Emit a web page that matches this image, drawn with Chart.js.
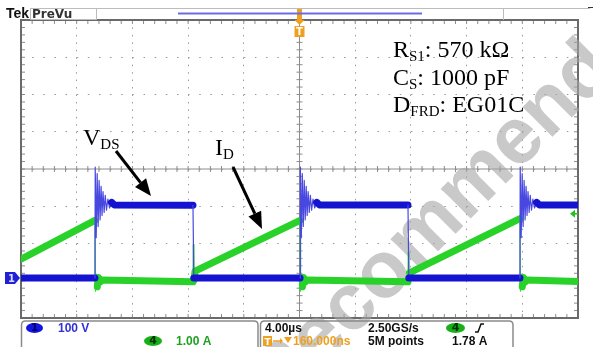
<!DOCTYPE html>
<html>
<head>
<meta charset="utf-8">
<script src="https://cdn.jsdelivr.net/npm/chart.js@4.4.0/dist/chart.umd.min.js"></script>
<style>
  html, body { margin: 0; padding: 0; background: #fff; }
  #wrap { width: 593px; height: 347px; }
</style>
</head>
<body>
<div id="wrap"><canvas id="scope" width="593" height="347"></canvas></div>
<script>
// screen: 10 div x 4.00 us, 8 div vertical
const timeSpanUs = 40;
const usPerDiv = 4;

// switching instants (us from left edge)
const turnOffUs = [5.31, 20.04, 35.83];
const turnOnUs = [12.35, 27.79];

// ch1 V_DS, 100 V/div
const vdsPlateauV = [195, 196, 196];
const ringDtUs = [0, 0.02, 0.09, 0.16, 0.23, 0.30, 0.37, 0.44, 0.51, 0.58, 0.66, 0.74, 0.83, 0.93, 1.05, 1.20, 1.40];
const ringV = [0, 298, 108, 280, 138, 262, 156, 246, 168, 232, 176, 222, 182, 212, 188, 203, 196];

// ch4 I_D, 1.00 A/div
const rampStartUs = [0, 12.5, 27.9];
const rampStartA = [0.56, 0.24, 0.19];
const rampEndA = [1.60, 1.60, 1.65];
const dropDtUs = [0.04, 0.10, 0.17, 0.25, 0.35, 0.50];
const dropA = [-0.30, 0.16, -0.18, 0.07, -0.06, 0.0];
const offFloorEndA = [-0.05, -0.05, -0.04];
const onSpikeA = [0.95, 0.75];
const trigLevelA = 1.78;

function buildVds() {
  const pts = [{ x: 0, y: 0 }];
  turnOffUs.forEach((tOff, i) => {
    ringDtUs.forEach((dt, k) => pts.push({ x: tOff + dt, y: ringV[k] }));
    const tOn = turnOnUs[i];
    if (tOn !== undefined) {
      pts.push({ x: tOn, y: vdsPlateauV[i] });
      pts.push({ x: tOn + 0.06, y: 0 });
    } else {
      pts.push({ x: timeSpanUs, y: vdsPlateauV[i] });
    }
  });
  return pts;
}

function buildId() {
  const pts = [];
  turnOffUs.forEach((tOff, i) => {
    pts.push({ x: rampStartUs[i], y: rampStartA[i] });
    pts.push({ x: tOff, y: rampEndA[i] });
    dropDtUs.forEach((dt, k) => pts.push({ x: tOff + dt, y: dropA[k] }));
    const tOn = turnOnUs[i];
    if (tOn !== undefined) {
      pts.push({ x: tOn, y: offFloorEndA[i] });
      pts.push({ x: tOn + 0.02, y: onSpikeA[i] });
      pts.push({ x: tOn + 0.07, y: 0 });
    } else {
      pts.push({ x: timeSpanUs, y: offFloorEndA[i] });
    }
  });
  return pts;
}

// fast edges / ringing are thin, flat noisy parts are a thick band
const steep = (limit) => (c) => {
  const dx = Math.abs(c.p1.parsed.x - c.p0.parsed.x) + 1e-6;
  return Math.abs(c.p1.parsed.y - c.p0.parsed.y) / dx > limit;
};
const vSteep = steep(40);
const iSteep = steep(4);

function subText(ctx, x, y, parts, size) {
  parts.forEach(([txt, sub]) => {
    ctx.font = (sub ? Math.round(size * 0.62) : size) + 'px "Liberation Serif"';
    ctx.fillText(txt, x, sub ? y + size * 0.15 : y);
    x += ctx.measureText(txt).width;
  });
}

function arrow(ctx, x1, y1, x2, y2) {
  const ang = Math.atan2(y2 - y1, x2 - x1);
  const len = 17, half = 7;
  const bx = x2 - Math.cos(ang) * len, by = y2 - Math.sin(ang) * len;
  ctx.lineWidth = 3;
  ctx.beginPath();
  ctx.moveTo(x1, y1);
  ctx.lineTo(bx, by);
  ctx.stroke();
  ctx.beginPath();
  ctx.moveTo(x2, y2);
  ctx.lineTo(bx + Math.sin(ang) * half, by - Math.cos(ang) * half);
  ctx.lineTo(bx - Math.sin(ang) * half, by + Math.cos(ang) * half);
  ctx.closePath();
  ctx.fill();
}

function line(ctx, x1, y1, x2, y2) {
  ctx.beginPath();
  ctx.moveTo(x1, y1);
  ctx.lineTo(x2, y2);
  ctx.stroke();
}

function oval(ctx, x, y, w, h, fill, label, labelColor) {
  ctx.fillStyle = fill;
  ctx.beginPath();
  ctx.ellipse(x + w / 2, y + h / 2, w / 2, h / 2, 0, 0, Math.PI * 2);
  ctx.fill();
  ctx.fillStyle = labelColor;
  ctx.font = 'bold 11px "DejaVu Sans"';
  ctx.textAlign = 'center';
  ctx.fillText(label, x + w / 2, y + h - 2);
  ctx.textAlign = 'left';
}

const scopeDecor = {
  id: 'scopeDecor',
  beforeDatasetsDraw(chart) {
    const { ctx, chartArea: a } = chart;
    const xs = chart.scales.x, ys = chart.scales.y;
    const cx = xs.getPixelForValue(timeSpanUs / 2), cy = ys.getPixelForValue(0);
    ctx.save();
    ctx.strokeStyle = '#8c8c8c';
    ctx.lineWidth = 1;
    line(ctx, a.left, cy, a.right, cy);
    line(ctx, cx, a.top, cx, a.bottom);
    for (let i = 0; i <= 50; i++) {
      const px = xs.getPixelForValue(i * usPerDiv / 5);
      line(ctx, px, cy - 3, px, cy + 3);
      line(ctx, px, a.top, px, a.top + 4);
      line(ctx, px, a.bottom - 4, px, a.bottom);
    }
    for (let i = 0; i <= 40; i++) {
      const py = ys.getPixelForValue(-4 + i * 0.2);
      line(ctx, cx - 3, py, cx + 3, py);
      line(ctx, a.left, py, a.left + 4, py);
      line(ctx, a.right - 4, py, a.right, py);
    }
    ctx.strokeStyle = '#6a6a6a';
    ctx.lineWidth = 2;
    ctx.strokeRect(a.left, a.top, a.width, a.height);

    // watermark
    const text = 'Not Recommended for New Design';
    ctx.font = 'bold 80px "Liberation Sans"';
    const pre = ctx.measureText('Not Reco').width;
    const mw = ctx.measureText('m').width;
    ctx.translate(427, 233);
    ctx.rotate(-45 * Math.PI / 180);
    ctx.fillStyle = 'rgba(165,165,165,0.6)';
    ctx.fillText(text, -(pre + mw / 2), 80 * 0.26);
    ctx.restore();
  },
  afterDatasetsDraw(chart) {
    const { ctx, chartArea: a } = chart;
    const xs = chart.scales.x;
    ctx.save();
    ctx.fillStyle = '#000';
    ctx.strokeStyle = '#000';
    ctx.textBaseline = 'alphabetic';
    subText(ctx, 393, 57, [['R', 0], ['S1', 1], [': 570 kΩ', 0]], 24);
    subText(ctx, 393, 85, [['C', 0], ['S', 1], [': 1000 pF', 0]], 24);
    subText(ctx, 393, 112, [['D', 0], ['FRD', 1], [': EG01C', 0]], 24);
    subText(ctx, 83, 145, [['V', 0], ['DS', 1]], 24);
    subText(ctx, 215, 155, [['I', 0], ['D', 1]], 24);
    arrow(ctx, 116, 151, 151, 196);
    arrow(ctx, 233, 167, 262, 229);

    // ch1 ground marker
    const gy = chart.scales.yV.getPixelForValue(0);
    ctx.fillStyle = '#2020d8';
    ctx.beginPath();
    ctx.moveTo(5, gy - 6); ctx.lineTo(15, gy - 6); ctx.lineTo(20, gy);
    ctx.lineTo(15, gy + 6); ctx.lineTo(5, gy + 6); ctx.closePath();
    ctx.fill();
    ctx.fillStyle = '#dde';
    ctx.font = 'bold 10px "DejaVu Sans"';
    ctx.fillText('1', 8, gy + 4);

    // trigger level marker
    const ty = chart.scales.yA.getPixelForValue(trigLevelA);
    ctx.fillStyle = '#22c022';
    ctx.strokeStyle = '#22c022';
    ctx.lineWidth = 1.5;
    ctx.beginPath();
    ctx.moveTo(570, ty); ctx.lineTo(575, ty - 4); ctx.lineTo(575, ty + 4); ctx.closePath();
    ctx.fill();
    line(ctx, 574, ty, a.right, ty);

    // trigger position marker
    const tx = xs.getPixelForValue(timeSpanUs / 2);
    ctx.fillStyle = '#f0a020';
    ctx.fillRect(tx - 2.5, 9, 5, 11);
    ctx.beginPath();
    ctx.moveTo(tx - 5, 20); ctx.lineTo(tx + 5, 20); ctx.lineTo(tx, 25); ctx.closePath();
    ctx.fill();
    ctx.fillRect(tx - 5, 26, 10, 11);
    ctx.fillStyle = '#fff';
    ctx.font = 'bold 10px "DejaVu Sans"';
    ctx.textAlign = 'center';
    ctx.fillText('T', tx, 35);
    ctx.restore();
  },
  afterDraw(chart) {
    const { ctx } = chart;
    ctx.save();
    // top bar
    ctx.strokeStyle = '#bcbcbc';
    ctx.lineWidth = 1;
    line(ctx, 30, 8.5, 590, 8.5);
    line(ctx, 30, 19.5, 96, 19.5);
    line(ctx, 30.5, 8, 30.5, 20);
    line(ctx, 96.5, 8, 96.5, 20);
    line(ctx, 503.5, 8, 503.5, 20);
    ctx.strokeStyle = '#333';
    line(ctx, 588, 7.5, 593, 7.5);
    ctx.strokeStyle = '#6c6ce0';
    ctx.lineWidth = 2;
    line(ctx, 178, 13.5, 422, 13.5);
    ctx.fillStyle = '#111';
    ctx.font = 'bold 14px "Liberation Sans"';
    ctx.fillText('Tek', 6, 18);
    ctx.font = 'bold 12px "DejaVu Sans"';
    ctx.fillStyle = '#333';
    ctx.fillText('PreVu', 32, 18);

    // bottom status boxes
    ctx.strokeStyle = '#8a8a8a';
    ctx.lineWidth = 1.5;
    ctx.beginPath();
    ctx.moveTo(21.5, 347); ctx.lineTo(21.5, 325);
    ctx.quadraticCurveTo(21.5, 321, 25.5, 321); ctx.lineTo(254, 321);
    ctx.quadraticCurveTo(258, 321, 258, 325); ctx.lineTo(258, 347);
    ctx.stroke();
    ctx.beginPath();
    ctx.moveTo(260.5, 347); ctx.lineTo(260.5, 325);
    ctx.quadraticCurveTo(260.5, 321, 264.5, 321); ctx.lineTo(509, 321);
    ctx.quadraticCurveTo(513, 321, 513, 325); ctx.lineTo(513, 347);
    ctx.stroke();

    oval(ctx, 26, 323, 17, 10, '#1414e0', '1', '#000070');
    ctx.font = 'bold 12px "Liberation Sans"';
    ctx.fillStyle = '#3030d8';
    ctx.fillText('100 V', 58, 332);
    oval(ctx, 144, 336, 18, 10, '#18b018', '4', '#003000');
    ctx.font = 'bold 12px "Liberation Sans"';
    ctx.fillStyle = '#20a020';
    ctx.fillText('1.00 A', 176, 345);

    ctx.fillStyle = '#111';
    ctx.fillText('4.00µs', 265, 332);
    ctx.fillText('2.50GS/s', 368, 332);
    ctx.fillText('5M points', 368, 345);
    ctx.fillText('1.78 A', 452, 345);
    oval(ctx, 446, 323, 19, 10, '#18b018', '4', '#003000');
    ctx.strokeStyle = '#111';
    ctx.lineWidth = 1.5;
    ctx.beginPath();
    ctx.moveTo(475, 332); ctx.lineTo(478, 332); ctx.lineTo(481, 324); ctx.lineTo(484, 324);
    ctx.stroke();

    // trigger delay row
    ctx.fillStyle = '#f0a020';
    ctx.fillRect(263, 336, 9, 10);
    ctx.fillStyle = '#fff';
    ctx.font = 'bold 9px "DejaVu Sans"';
    ctx.fillText('T', 264.5, 344.5);
    ctx.fillStyle = '#f0a020';
    ctx.strokeStyle = '#f0a020';
    ctx.lineWidth = 1.5;
    line(ctx, 273, 341, 280, 341);
    ctx.beginPath();
    ctx.moveTo(280, 338); ctx.lineTo(283, 341); ctx.lineTo(280, 344); ctx.closePath();
    ctx.fill();
    ctx.beginPath();
    ctx.moveTo(284, 337); ctx.lineTo(292, 337); ctx.lineTo(288, 343); ctx.closePath();
    ctx.fill();
    ctx.font = 'bold 12px "Liberation Sans"';
    ctx.fillText('160.000ns', 293, 345);
    ctx.restore();
  }
};

const ctx = document.getElementById('scope').getContext('2d');
new Chart(ctx, {
  type: 'line',
  data: {
    datasets: [
      {
        label: 'V_DS',
        data: buildVds(),
        yAxisID: 'yV',
        order: 0,
        borderColor: '#1414d0',
        borderWidth: 7,
        borderCapStyle: 'round',
        borderJoinStyle: 'round',
        segment: {
          borderWidth: (c) => (vSteep(c) ? 1.2 : 7),
          borderColor: (c) => (vSteep(c) ? '#4848e0' : '#1414d0'),
        },
        pointRadius: 0,
        tension: 0,
        clip: 0,
      },
      {
        label: 'I_D',
        data: buildId(),
        yAxisID: 'yA',
        order: 1,
        borderColor: '#28d228',
        borderWidth: 7,
        borderCapStyle: 'round',
        borderJoinStyle: 'round',
        segment: {
          borderWidth: (c) => (iSteep(c) ? 1.2 : 7),
          borderColor: (c) => (iSteep(c) ? '#3cd83c' : '#28d228'),
        },
        pointRadius: 0,
        tension: 0,
        clip: 0,
      },
    ],
  },
  options: {
    responsive: false,
    animation: false,
    devicePixelRatio: 1,
    layout: { autoPadding: false, padding: { left: 21, right: 15, top: 20, bottom: 29 } },
    plugins: { legend: { display: false }, tooltip: { enabled: false } },
    scales: {
      x: {
        type: 'linear',
        min: 0,
        max: timeSpanUs,
        ticks: { display: false, stepSize: usPerDiv },
        grid: { color: '#9a9a9a', drawTicks: false },
        border: { display: false, dash: [1.5, 5.95] },
      },
      y: {
        min: -4,
        max: 4,
        ticks: { display: false, stepSize: 1 },
        grid: { color: '#9a9a9a', drawTicks: false },
        border: { display: false, dash: [1.5, 9.64] },
      },
      yV: { display: false, min: -107.4, max: 692.6 },
      yA: { display: false, min: -1.02, max: 6.98 },
    },
  },
  plugins: [scopeDecor],
});
</script>
</body>
</html>
